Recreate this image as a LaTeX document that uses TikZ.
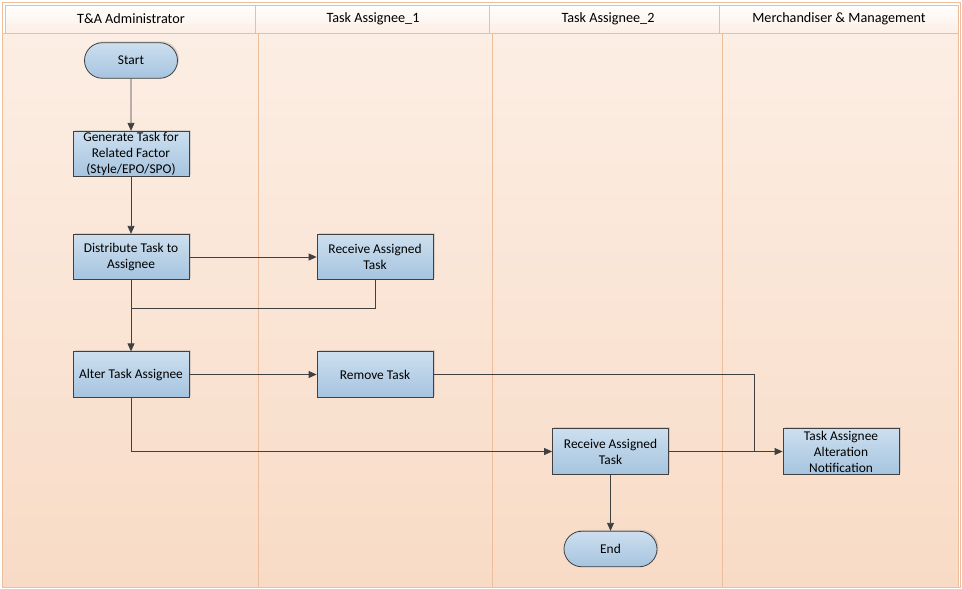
\documentclass[tikz,border=0pt]{standalone}
\usepackage{fontspec}
\setmainfont{Carlito}
\usetikzlibrary{arrows.meta,shapes.misc,shadows}
\definecolor{laneline}{HTML}{EDBE9C}
\definecolor{lanetop}{HTML}{FCEEE4}
\definecolor{lanebot}{HTML}{F8DBC6}
\definecolor{boxtop}{HTML}{CCDFEF}
\definecolor{boxbot}{HTML}{A6C4DF}
\definecolor{ink}{HTML}{404040}
\begin{document}
\begin{tikzpicture}[x=1pt,y=-1pt,
  lane/.style={draw=laneline,line width=0.8pt,top color=lanetop,bottom color=lanebot},
  header/.style={draw=laneline,line width=0.8pt,top color=white,bottom color=lanetop},
  headtext/.style={font=\fontsize{14.2}{16}\selectfont,text=black},
  proc/.style={draw=ink,line width=0.8pt,top color=boxtop,bottom color=boxbot,
    minimum width=116pt,minimum height=45.5pt,align=center,
    font=\fontsize{13.4}{16}\selectfont,inner sep=1pt,
    drop shadow={shadow xshift=1.5pt,shadow yshift=1.5pt,opacity=0.25,fill=gray}},
  term/.style={proc,rounded rectangle,minimum width=95pt,minimum height=35.5pt},
  flow/.style={draw=ink,line width=0.8pt,-{Triangle[length=8pt,width=7pt]}},
  link/.style={draw=ink,line width=0.8pt}]
\useasboundingbox (0,0) rectangle (962,589);
\fill[white] (0,0) rectangle (962,589);
% outer frame
\draw[laneline,line width=0.6pt] (2,2) rectangle (960,587);
% lane bodies
\path[lane] (2,33) rectangle (258,587);
\path[lane] (258,33) rectangle (492,587);
\path[lane] (492,33) rectangle (722,587);
\path[lane] (722,33) rectangle (958,587);
% lane headers
\path[header] (5,5) rectangle (255,33);
\path[header] (255,5) rectangle (489,33);
\path[header] (489,5) rectangle (719,33);
\path[header] (719,5) rectangle (958,33);
\node[headtext] (h1) at (131,19) {T\&A Administrator};
\node[headtext] (h2) at (373,19) {Task Assignee\_1};
\node[headtext] (h3) at (608,19) {Task Assignee\_2};
\node[headtext] (h4) at (839,19) {Merchandiser \& Management};
% flow nodes
\node[term] (start) at (131,60.5) {Start};
\node[proc] (gen) at (131,154) {Generate Task for\\Related Factor\\(Style/EPO/SPO)};
\node[proc] (dist) at (131,257) {Distribute Task to\\Assignee};
\node[proc] (recv1) at (375,257) {Receive Assigned\\Task};
\node[proc] (alter) at (131,374.5) {Alter Task Assignee};
\node[proc] (remove) at (375,374.5) {Remove Task};
\node[proc] (recv2) at (610.5,451.5) {Receive Assigned\\Task};
\node[proc] (notif) at (841,451.5) {Task Assignee\\Alteration\\Notification};
\node[term] (end) at (610.5,549) {End};
% junction points
\coordinate (j1) at (131,308);
\coordinate (j2) at (754,451.5);
% connectors
\path[flow] (start) -- (gen);
\path[flow] (gen) -- (dist);
\path[flow] (dist) -- (recv1);
\path[link] (recv1.south) |- (j1);
\path[flow] (dist) -- (alter);
\path[flow] (alter) -- (remove);
\path[link] (remove.east) -| (j2);
\path[flow] (alter.south) |- (recv2.west);
\path[flow] (recv2) -- (notif);
\path[flow] (recv2) -- (end);
\end{tikzpicture}
\end{document}
